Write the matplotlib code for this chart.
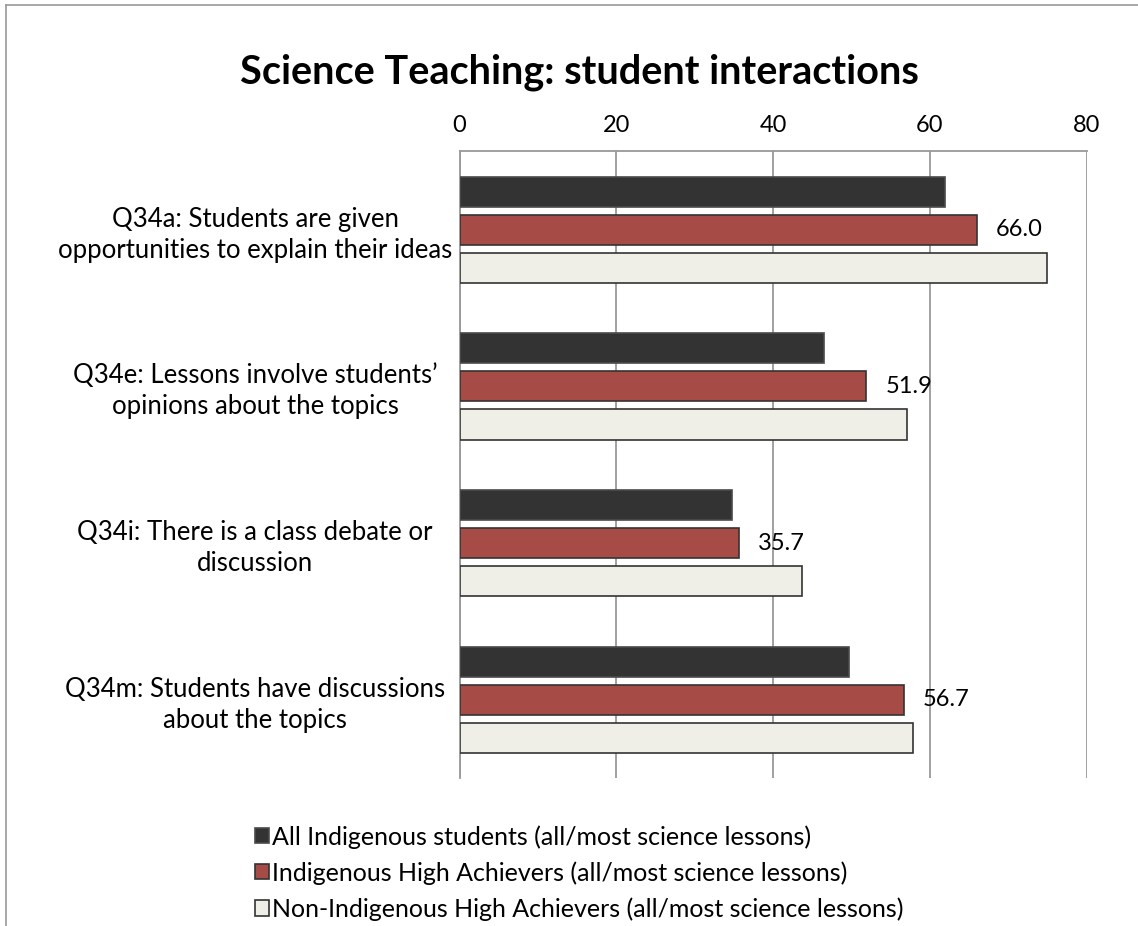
import numpy as np
import matplotlib
matplotlib.use("Agg")
import matplotlib.pyplot as plt
from matplotlib.lines import Line2D

plt.rcParams["font.family"] = ["Lato", "DejaVu Sans"]

# ---------------------------------------------------------------------------
# Data
# ---------------------------------------------------------------------------
categories = [
    "Q34a: Students are given\nopportunities to explain their ideas",
    "Q34e: Lessons involve students\u2019\nopinions about the topics",
    "Q34i: There is a class debate or\ndiscussion",
    "Q34m: Students have discussions\nabout the topics",
]
series_names = [
    "All Indigenous students (all/most science lessons)",
    "Indigenous High Achievers (all/most science lessons)",
    "Non-Indigenous High Achievers (all/most science lessons)",
]
all_indigenous = [62.0, 46.5, 34.8, 49.7]
indigenous_high = [66.0, 51.9, 35.7, 56.7]
non_indigenous_high = [74.9, 57.1, 43.7, 57.8]
x_ticks = [0, 20, 40, 60, 80]

colors = ["#333333", "#A64B46", "#EFEFE7"]
edges = ["#4a4a4a", "#333333", "#333333"]

# ---------------------------------------------------------------------------
# Figure
# ---------------------------------------------------------------------------
fig = plt.figure(figsize=(11.38, 9.26), dpi=100)
ax = fig.add_axes([0.4038, 0.1598, 0.551, 0.6766])

y = np.arange(len(categories))
pitch, height = 0.243, 0.192
series = [all_indigenous, indigenous_high, non_indigenous_high]
for k, vals in enumerate(series):
    ax.barh(y + (k - 1) * pitch, vals, height=height, color=colors[k],
            edgecolor=edges[k], linewidth=1.2, zorder=3)

# value labels on the red series only
for yi, v in zip(y, indigenous_high):
    ax.annotate(f"{v:.1f}", xy=(v, yi), xytext=(19, 0),
                textcoords="offset pixels", ha="left", va="center",
                fontsize=17, color="black", zorder=4)

ax.set_xlim(0, 80)
ax.set_ylim(len(categories) - 0.5, -0.5)
ax.set_xticks(x_ticks)
ax.xaxis.tick_top()
ax.tick_params(axis="x", length=0, pad=11, labelsize=17)
ax.set_yticks([])
ax.grid(axis="x", color="#999999", linewidth=1.3, zorder=0)

for side in ["right", "bottom"]:
    ax.spines[side].set_visible(False)
for side in ["top", "left"]:
    ax.spines[side].set_color("#999999")
    ax.spines[side].set_linewidth(1.3)

# category labels, centred in the space left of the plot
for yi, lab in zip(y, categories):
    ax.text(-0.326, yi + 0.032, lab, transform=ax.get_yaxis_transform(),
            ha="center", va="center", multialignment="center",
            fontsize=18.5, linespacing=1.3)

fig.suptitle("Science Teaching: student interactions", x=0.509, y=0.942,
             fontsize=28.5, fontweight="bold")

handles = [plt.Rectangle((0, 0), 1, 1, facecolor=colors[k],
                         edgecolor=edges[k], linewidth=1.2) for k in range(3)]
fig.legend(handles, series_names, loc="upper left",
           bbox_to_anchor=(0.224, 0.109), frameon=False, fontsize=18,
           handlelength=0.55, handleheight=0.55, handletextpad=0.15,
           labelspacing=0.5, borderaxespad=0, borderpad=0)

# chart border (left / top only visible in reference)
fig.add_artist(Line2D([0.005, 0.005], [0, 0.995], transform=fig.transFigure,
                      color="#999999", linewidth=1.2))
fig.add_artist(Line2D([0.005, 1.0], [0.995, 0.995], transform=fig.transFigure,
                      color="#999999", linewidth=1.2))

fig.savefig("out.png", dpi=100)
